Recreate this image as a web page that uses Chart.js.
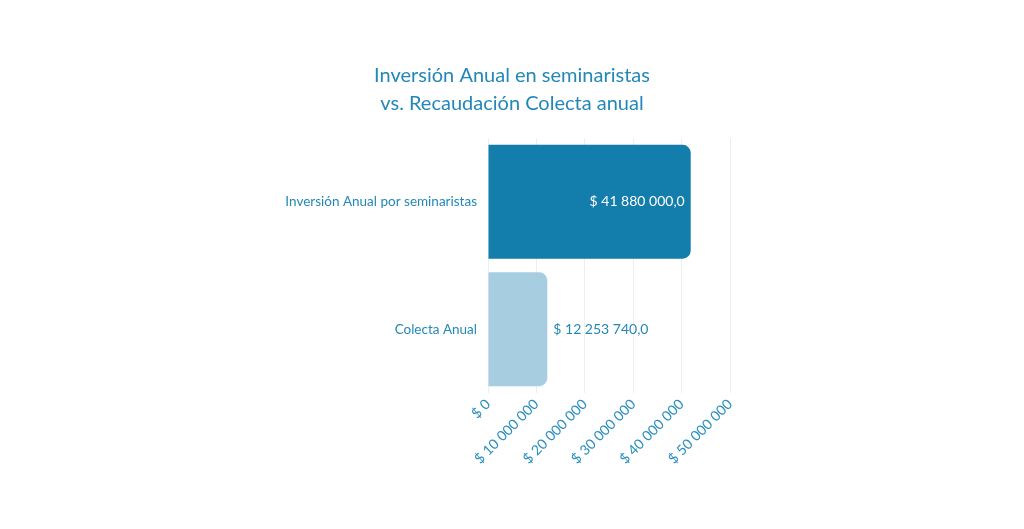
<!DOCTYPE html>
<html>
<head>
<meta charset="utf-8">
<script src="https://cdn.jsdelivr.net/npm/chart.js@4/dist/chart.umd.min.js"></script>
<style>
  html, body { margin: 0; padding: 0; background: #fff; }
  #wrap { width: 1024px; height: 529px; }
</style>
</head>
<body>
<div id="wrap"><canvas id="chart"></canvas></div>
<script>
// --- datos ---
const categories = ['Inversión Anual por seminaristas', 'Colecta Anual'];
const values = [41880000, 12253740];
const barColors = ['#137dac', '#a7cde1'];
const titleLines = ['Inversión Anual en seminaristas', 'vs. Recaudación Colecta anual'];
const tickMax = 50000000;
const tickStep = 10000000;

const textColor = '#2388b8';
const fontFamily = 'Lato, "Noto Sans", sans-serif';

// 41880000 -> "41 880 000"
function groupSpaces(n) {
    return String(Math.round(n)).replace(/\B(?=(\d{3})+(?!\d))/g, ' ');
}
function formatValue(v) {
    const fixed = v.toFixed(1).split('.');
    return '$ ' + groupSpaces(fixed[0]) + ',' + fixed[1];
}

// título centrado en la página (no sobre el área del gráfico)
const pageTitle = {
    id: 'pageTitle',
    afterDraw(chart) {
        const ctx = chart.ctx;
        ctx.save();
        ctx.font = '20px ' + fontFamily;
        ctx.fillStyle = textColor;
        ctx.textAlign = 'center';
        ctx.textBaseline = 'middle';
        titleLines.forEach((line, i) => ctx.fillText(line, chart.width / 2, 76 + i * 28));
        ctx.restore();
    }
};

// etiquetas de valor en las barras
const valueLabels = {
    id: 'valueLabels',
    afterDatasetsDraw(chart) {
        const ctx = chart.ctx;
        const meta = chart.getDatasetMeta(0);
        ctx.save();
        ctx.font = '14px ' + fontFamily;
        ctx.textBaseline = 'middle';
        meta.data.forEach((bar, i) => {
            const txt = formatValue(values[i]);
            const w = ctx.measureText(txt).width;
            const barW = bar.x - bar.base;
            if (barW > w + 16) {
                ctx.fillStyle = '#ffffff';
                ctx.textAlign = 'right';
                ctx.fillText(txt, bar.x - 6, bar.y);
            } else {
                ctx.fillStyle = textColor;
                ctx.textAlign = 'left';
                ctx.fillText(txt, bar.x + 6, bar.y);
            }
        });
        ctx.restore();
    }
};

new Chart(document.getElementById('chart'), {
    type: 'bar',
    data: {
        labels: categories,
        datasets: [{
            data: values,
            backgroundColor: barColors,
            borderRadius: 8,
            categoryPercentage: 0.95,
            barPercentage: 0.94
        }]
    },
    options: {
        indexAxis: 'y',
        responsive: true,
        maintainAspectRatio: false,
        animation: false,
        layout: { padding: { top: 138, right: 294, bottom: 0, left: 0 } },
        plugins: {
            legend: { display: false },
            tooltip: { enabled: false },
            title: { display: false }
        },
        scales: {
            x: {
                min: 0,
                max: tickMax,
                border: { display: false },
                grid: { color: '#e9eff3', drawTicks: false },
                ticks: {
                    stepSize: tickStep,
                    color: '#2a8fc0',
                    minRotation: 45,
                    maxRotation: 45,
                    padding: 3,
                    font: { family: fontFamily, size: 14 },
                    callback: v => '$ ' + groupSpaces(v)
                },
                afterFit(scale) { scale.height = 136; }
            },
            y: {
                border: { display: false },
                grid: { display: false, drawTicks: false },
                ticks: {
                    color: textColor,
                    padding: 11,
                    font: { family: fontFamily, size: 13.5 }
                },
                afterFit(scale) { scale.width = 488; }
            }
        }
    },
    plugins: [valueLabels, pageTitle]
});
</script>
</body>
</html>
